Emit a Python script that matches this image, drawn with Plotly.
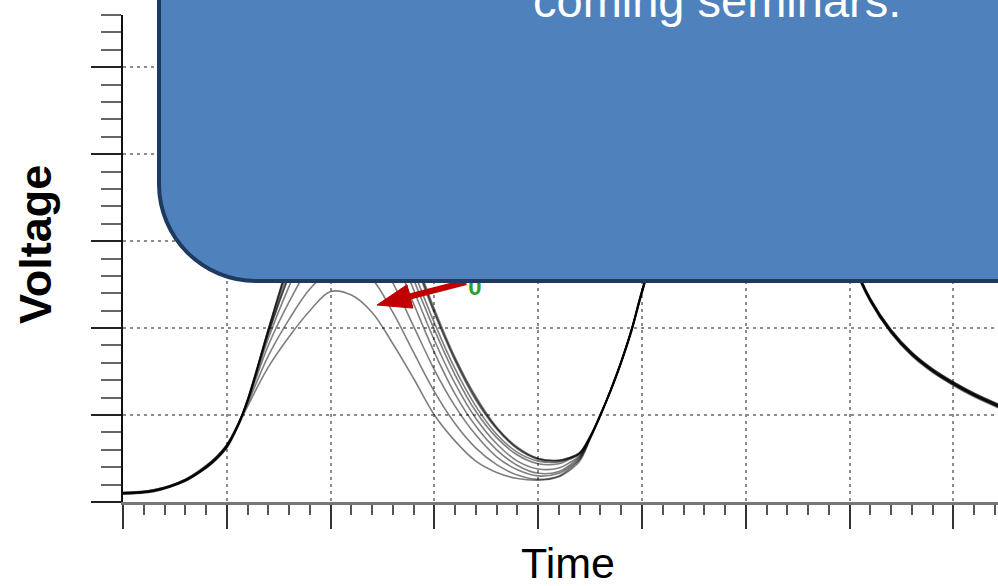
import plotly.graph_objects as go

# ---------------- data ----------------
time_pts = [0, 0.3, 0.6, 0.8, 0.9, 1.0, 1.1, 1.2, 1.4, 1.6, 1.8, 2.0, 2.2, 2.4, 2.6, 2.8, 3.0,
            3.2, 3.4, 3.6, 3.8, 4.0, 4.2, 4.3, 4.4, 4.5, 4.6, 4.7, 4.8, 4.9, 5.0, 5.4, 5.8,
            6.2, 6.6, 7.0, 7.2, 7.4, 7.6, 7.8, 8.0, 8.2, 8.44]

wave_1 = [0.10, 0.13, 0.25, 0.40, 0.50, 0.64, 0.85, 1.10, 1.55, 1.90, 2.20, 2.42, 2.38, 2.18, 1.82,
          1.42, 1.00, 0.70, 0.47, 0.34, 0.27, 0.25, 0.29, 0.36, 0.47, 0.72, 0.99, 1.28, 1.60, 1.97,
          2.40, 3.93, 4.58, 4.74, 4.29, 2.84, 2.31, 1.95, 1.69, 1.50, 1.35, 1.22, 1.09]
wave_2 = [0.11, 0.14, 0.26, 0.41, 0.52, 0.66, 0.87, 1.13, 1.68, 2.10, 2.45, 2.66, 2.70, 2.56, 2.18,
          1.72, 1.27, 0.90, 0.62, 0.43, 0.31, 0.26, 0.30, 0.38, 0.49, 0.73, 1.00, 1.29, 1.62, 1.99,
          2.44, 3.97, 4.62, 4.77, 4.32, 2.87, 2.34, 1.98, 1.72, 1.53, 1.38, 1.25, 1.12]
wave_3 = [0.09, 0.12, 0.24, 0.39, 0.49, 0.63, 0.86, 1.15, 1.80, 2.30, 2.72, 3.00, 3.08, 2.92, 2.52,
          2.02, 1.52, 1.10, 0.77, 0.52, 0.37, 0.30, 0.33, 0.40, 0.50, 0.73, 1.01, 1.28, 1.60, 1.96,
          2.40, 3.94, 4.59, 4.74, 4.28, 2.83, 2.30, 1.94, 1.68, 1.49, 1.34, 1.21, 1.08]
wave_4 = [0.10, 0.13, 0.26, 0.41, 0.51, 0.65, 0.87, 1.16, 1.88, 2.48, 3.00, 3.32, 3.42, 3.28, 2.86,
          2.28, 1.72, 1.24, 0.87, 0.60, 0.42, 0.33, 0.35, 0.42, 0.52, 0.74, 1.00, 1.29, 1.61, 1.98,
          2.42, 3.95, 4.60, 4.75, 4.30, 2.85, 2.32, 1.96, 1.70, 1.51, 1.36, 1.23, 1.10]
wave_5 = [0.11, 0.14, 0.25, 0.40, 0.51, 0.64, 0.86, 1.17, 1.94, 2.62, 3.22, 3.62, 3.76, 3.62, 3.18,
          2.56, 1.98, 1.46, 1.04, 0.74, 0.54, 0.44, 0.44, 0.49, 0.55, 0.75, 1.00, 1.30, 1.62, 1.99,
          2.43, 3.96, 4.61, 4.76, 4.31, 2.86, 2.33, 1.97, 1.71, 1.52, 1.37, 1.24, 1.11]
wave_6 = [0.09, 0.13, 0.24, 0.39, 0.49, 0.62, 0.85, 1.18, 1.96, 2.68, 3.30, 3.72, 3.86, 3.74, 3.30,
          2.66, 2.06, 1.53, 1.10, 0.78, 0.57, 0.47, 0.46, 0.50, 0.56, 0.74, 0.99, 1.29, 1.61, 1.98,
          2.41, 3.95, 4.60, 4.75, 4.30, 2.86, 2.33, 1.97, 1.71, 1.52, 1.37, 1.24, 1.11]
wave_7 = [0.10, 0.14, 0.26, 0.42, 0.52, 0.66, 0.88, 1.16, 1.98, 2.74, 3.38, 3.80, 3.94, 3.83, 3.42,
          2.79, 2.17, 1.62, 1.17, 0.84, 0.61, 0.49, 0.47, 0.50, 0.56, 0.75, 1.01, 1.28, 1.60, 1.97,
          2.41, 3.94, 4.59, 4.75, 4.29, 2.84, 2.31, 1.95, 1.69, 1.50, 1.35, 1.22, 1.09]
wave_8 = [0.10, 0.12, 0.25, 0.40, 0.50, 0.63, 0.86, 1.18, 1.98, 2.75, 3.40, 3.82, 3.96, 3.86, 3.45,
          2.82, 2.19, 1.64, 1.19, 0.85, 0.62, 0.50, 0.48, 0.51, 0.56, 0.75, 1.00, 1.30, 1.62, 1.99,
          2.43, 3.96, 4.61, 4.76, 4.31, 2.85, 2.32, 1.96, 1.70, 1.51, 1.36, 1.23, 1.10]
wave_9 = [0.11, 0.13, 0.24, 0.41, 0.51, 0.65, 0.87, 1.17, 1.99, 2.77, 3.42, 3.85, 3.99, 3.89, 3.48,
          2.85, 2.22, 1.66, 1.21, 0.86, 0.63, 0.50, 0.48, 0.51, 0.57, 0.76, 1.01, 1.29, 1.61, 1.98,
          2.42, 3.95, 4.60, 4.75, 4.30, 2.87, 2.34, 1.98, 1.72, 1.53, 1.38, 1.25, 1.12]
wave_10 = [0.10, 0.13, 0.25, 0.39, 0.50, 0.64, 0.86, 1.16, 1.93, 2.60, 3.18, 3.56, 3.68, 3.52, 3.06,
           2.44, 1.86, 1.36, 0.96, 0.67, 0.47, 0.38, 0.39, 0.45, 0.53, 0.74, 1.00, 1.29, 1.61, 1.98,
           2.42, 3.95, 4.60, 4.75, 4.30, 2.85, 2.32, 1.96, 1.70, 1.51, 1.36, 1.23, 1.10]

waves = [wave_1, wave_2, wave_3, wave_4, wave_5, wave_6, wave_7, wave_8, wave_9, wave_10]

x_title = "Time"
y_title = "Voltage"
callout_text = "coming seminars."
marker_label = "0"
marker_label_pos = (3.39, 2.45)   # data coords of the green label

# ---------------- layout geometry (pixels) ----------------
W, H = 998, 586
ML, MR, MT, MB = 123, 0, 15, 84
PW, PH = W - ML - MR, H - MT - MB
X_RANGE = [0, 8.43]
Y_RANGE = [0, 5.6]


def px_to_paper(px, py):
    return (px - ML) / PW, (H - MB - py) / PH


fig = go.Figure()

for w in waves:
    fig.add_trace(go.Scatter(
        x=time_pts, y=w, mode="lines",
        line=dict(color="rgba(0,0,0,0.5)", width=1.6, shape="spline", smoothing=1.0),
        hoverinfo="skip", showlegend=False))

fig.add_trace(go.Scatter(
    x=[marker_label_pos[0]], y=[marker_label_pos[1]], mode="text", text=[marker_label],
    textfont=dict(family="Liberation Sans, Arial", size=24, color="#2CA02C", weight="bold"),
    hoverinfo="skip", showlegend=False, cliponaxis=False))

shapes = []

# red arrow (drawn before the callout box so the box covers its tail)
tail = (466, 282)
tip = (377, 305)
head_len, head_half = 34, 12
dx, dy = tip[0] - tail[0], tip[1] - tail[1]
L = (dx * dx + dy * dy) ** 0.5
ux, uy = dx / L, dy / L
nx, ny = -uy, ux
base = (tip[0] - ux * head_len, tip[1] - uy * head_len)
shaft_end = (base[0] + ux * 3, base[1] + uy * 3)
p_tail = px_to_paper(*tail)
p_end = px_to_paper(*shaft_end)
shapes.append(dict(type="line", xref="paper", yref="paper",
                   x0=p_tail[0], y0=p_tail[1], x1=p_end[0], y1=p_end[1],
                   line=dict(color="#C00000", width=6), layer="above"))
c1 = px_to_paper(base[0] + nx * head_half, base[1] + ny * head_half)
c2 = px_to_paper(base[0] - nx * head_half, base[1] - ny * head_half)
ct = px_to_paper(*tip)
shapes.append(dict(type="path", xref="paper", yref="paper",
                   path=f"M {ct[0]},{ct[1]} L {c1[0]},{c1[1]} L {c2[0]},{c2[1]} Z",
                   fillcolor="#C00000", line=dict(color="#C00000", width=1), layer="above"))

# rounded callout box
bx_l, bx_b, bx_r, bx_t, rad = 159, 281, 1060, -60, 97
k = 0.5523
P = px_to_paper
a = P(bx_l, bx_t)
b = P(bx_l, bx_b - rad)
c1b = P(bx_l, bx_b - rad + k * rad)
c2b = P(bx_l + rad - k * rad, bx_b)
d = P(bx_l + rad, bx_b)
e = P(bx_r, bx_b)
f = P(bx_r, bx_t)
path = (f"M {a[0]},{a[1]} L {b[0]},{b[1]} C {c1b[0]},{c1b[1]} {c2b[0]},{c2b[1]} {d[0]},{d[1]} "
        f"L {e[0]},{e[1]} L {f[0]},{f[1]} Z")
shapes.append(dict(type="path", xref="paper", yref="paper", path=path,
                   fillcolor="#4F81BD", line=dict(color="#1F3A5F", width=4), layer="above"))

annotations = []
tx, ty = P(717, 1)
annotations.append(dict(xref="paper", yref="paper", x=tx, y=ty, text=callout_text,
                        showarrow=False, xanchor="center", yanchor="middle",
                        font=dict(family="Liberation Sans, Arial", size=47, color="white")))
vx, vy = P(35, 245)
annotations.append(dict(xref="paper", yref="paper", x=vx, y=vy, text=y_title, textangle=-90,
                        showarrow=False, xanchor="center", yanchor="middle",
                        font=dict(family="Liberation Sans, Arial", size=45, color="black",
                                  weight="bold")))
hx, hy = P(568, 563)
annotations.append(dict(xref="paper", yref="paper", x=hx, y=hy, text=x_title,
                        showarrow=False, xanchor="center", yanchor="middle",
                        font=dict(family="Liberation Sans, Arial", size=43, color="black")))

grid_dash = "3px,4px"
grid_color = "#8c8c8c"
fig.update_layout(
    width=W, height=H,
    margin=dict(l=ML, r=MR, t=MT, b=MB, pad=0),
    paper_bgcolor="white", plot_bgcolor="white",
    shapes=shapes, annotations=annotations,
    hovermode=False,
    xaxis=dict(range=X_RANGE, tick0=0, dtick=1, showticklabels=False,
               ticks="outside", ticklen=24, tickwidth=2, tickcolor="#333",
               showgrid=True, gridcolor=grid_color, gridwidth=1.6, griddash=grid_dash,
               minor=dict(dtick=0.2, ticks="outside", ticklen=10, tickwidth=1.5,
                          tickcolor="#555", showgrid=False),
               showline=True, linecolor="#777", linewidth=3, zeroline=False, fixedrange=True),
    yaxis=dict(range=Y_RANGE, tick0=0, dtick=1, showticklabels=False,
               ticks="outside", ticklen=30, tickwidth=2, tickcolor="#222",
               showgrid=True, gridcolor=grid_color, gridwidth=1.6, griddash=grid_dash,
               minor=dict(dtick=0.2, ticks="outside", ticklen=20, tickwidth=1.5,
                          tickcolor="#666", showgrid=False),
               showline=True, linecolor="#111", linewidth=2, zeroline=False, fixedrange=True),
)

fig.write_html("out.html", config={"displayModeBar": False},
               post_script="document.body.style.margin='0px';document.body.style.overflow='hidden';")
